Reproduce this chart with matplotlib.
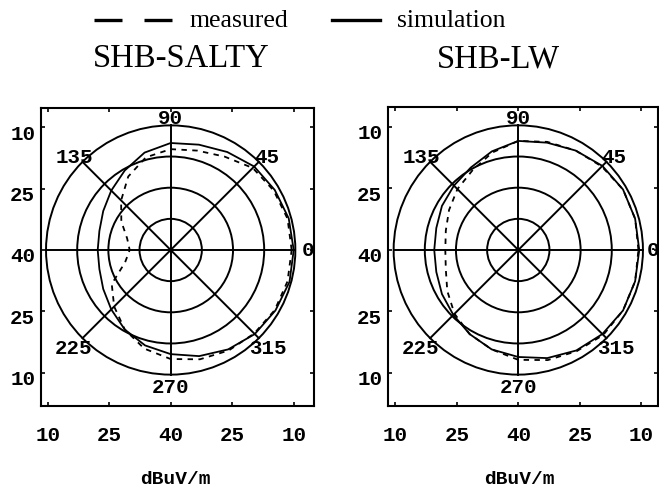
import numpy as np
import matplotlib.pyplot as plt
from matplotlib.patches import Circle
from matplotlib.transforms import ScaledTranslation

# angle of each reading, degrees
angles = [0, 15, 30, 45, 60, 75, 90, 105, 120, 135, 150, 165,
          180, 195, 210, 225, 240, 255, 270, 285, 300, 315, 330, 345]

# radial distance from the centre (dB, centre = 40 dBuV/m)
salty_sim = [30.0, 29.8, 29.3, 28.8, 27.6, 26.6, 26.1, 24.6, 22.4, 20.5, 19.0, 18.0,
             17.8, 18.0, 19.0, 20.5, 22.4, 24.1, 25.4, 26.8, 28.0, 29.0, 29.5, 30.0]
salty_meas = [29.5, 29.5, 29.0, 28.3, 26.3, 25.1, 24.6, 23.4, 20.7, 17.1, 13.9, 11.0,
              10.0, 11.5, 16.6, 19.5, 22.4, 24.9, 26.6, 27.6, 28.3, 28.8, 29.3, 29.5]
lw_sim = [29.5, 29.5, 29.5, 29.0, 28.0, 27.1, 26.6, 24.9, 23.2, 22.2, 21.5, 20.7,
          20.5, 20.7, 21.5, 22.4, 23.7, 25.1, 26.1, 27.3, 28.3, 29.0, 29.5, 29.5]
lw_meas = [29.3, 29.5, 29.5, 28.8, 28.0, 27.3, 26.6, 24.6, 22.4, 21.0, 19.5, 18.3,
           17.8, 18.3, 20.0, 22.0, 23.7, 25.1, 26.8, 27.8, 28.5, 29.3, 29.5, 29.5]

ring_radii = [7.6, 15.2, 22.8, 30.4]
tick_pos = [-30, -15, 0, 15, 30]
tick_labels = ["10", "25", "40", "25", "10"]
spoke_angles = [0, 45, 90, 135]

mono = "Liberation Mono"
serif = "Liberation Serif"

fig = plt.figure(figsize=(6.59, 4.89), dpi=100)


def draw_panel(ax, sim, meas, xlim, ylim, zero_x):
    R = ring_radii[-1]
    for r in ring_radii:
        ax.add_patch(Circle((0, 0), r, fill=False, lw=1.4, color="black"))
    for a in spoke_angles:
        t = np.deg2rad(a)
        ax.plot([-R * np.cos(t), R * np.cos(t)], [-R * np.sin(t), R * np.sin(t)],
                color="black", lw=1.4)

    th = np.deg2rad(angles + [360])
    rs = np.array(sim + sim[:1])
    rm = np.array(meas + meas[:1])
    ax.plot(rs * np.cos(th), rs * np.sin(th), color="black", lw=1.3)
    ax.plot(rm * np.cos(th), rm * np.sin(th), color="black", lw=1.3,
            linestyle=(0, (3, 3)))

    lab = dict(fontfamily=mono, fontweight="bold", fontsize=15,
               ha="center", va="center", clip_on=False)
    ax.text(zero_x, 0, "0", **lab)
    ax.text(0, 32.4, "90", **lab)
    ax.text(0, -33.2, "270", **lab)
    ax.text(23.4, 22.7, "45", **lab)
    ax.text(-23.6, 22.7, "135", **lab)
    ax.text(-23.8, -23.9, "225", **lab)
    ax.text(23.7, -23.9, "315", **lab)

    ax.set_xlim(*xlim)
    ax.set_ylim(*ylim)
    ax.set_xticks(tick_pos)
    ax.set_yticks(tick_pos)
    ax.set_xticklabels(tick_labels, fontfamily=mono, fontweight="bold", fontsize=15)
    ax.set_yticklabels(tick_labels, fontfamily=mono, fontweight="bold", fontsize=15)
    ax.tick_params(direction="in", length=3, width=1.2, top=True, right=True)
    ax.tick_params(axis="x", pad=14)
    ax.tick_params(axis="y", pad=4)
    for lbl in ax.get_yticklabels():
        lbl.set_transform(lbl.get_transform() +
                          ScaledTranslation(0, -0.04, fig.dpi_scale_trans))
    for s in ax.spines.values():
        s.set_linewidth(1.5)


ax1 = fig.add_axes([40.7 / 659, 82.3 / 489, 273.3 / 659, 298.2 / 489])
draw_panel(ax1, salty_sim, salty_meas, (-31.7, 34.95), (-37.98, 34.76), 33.4)
ax2 = fig.add_axes([387.7 / 659, 82.3 / 489, 270.0 / 659, 298.6 / 489])
draw_panel(ax2, lw_sim, lw_meas, (-31.85, 34.0), (-37.98, 34.85), 32.9)

# unit labels below each panel
fig.text(175 / 659, 1 - 480 / 489, "dBuV/m", fontfamily=mono, fontweight="bold",
         fontsize=14, ha="center", va="center")
fig.text(519 / 659, 1 - 480 / 489, "dBuV/m", fontfamily=mono, fontweight="bold",
         fontsize=14, ha="center", va="center")

# titles
fig.text(181 / 659, 1 - 59 / 489, "SHB-SALTY", fontfamily=serif, fontsize=23.5,
         ha="center", va="center")
fig.text(498 / 659, 1 - 59 / 489, "SHB-LW", fontfamily=serif, fontsize=23.5,
         ha="center", va="center")

# legend drawn by hand across the top
ly = 1 - 21 / 489
fig.add_artist(plt.Line2D([94 / 659, 172 / 659], [ly, ly], color="black", lw=2.4,
                          linestyle=(0, (8.4, 6.6))))
fig.text(189 / 659, ly, "measured", fontfamily=serif, fontsize=18.5,
         ha="left", va="center")
fig.add_artist(plt.Line2D([332 / 659, 380 / 659], [ly, ly], color="black", lw=2.4))
fig.text(397 / 659, ly, "simulation", fontfamily=serif, fontsize=18.5,
         ha="left", va="center")

fig.savefig("out.png", dpi=100)
